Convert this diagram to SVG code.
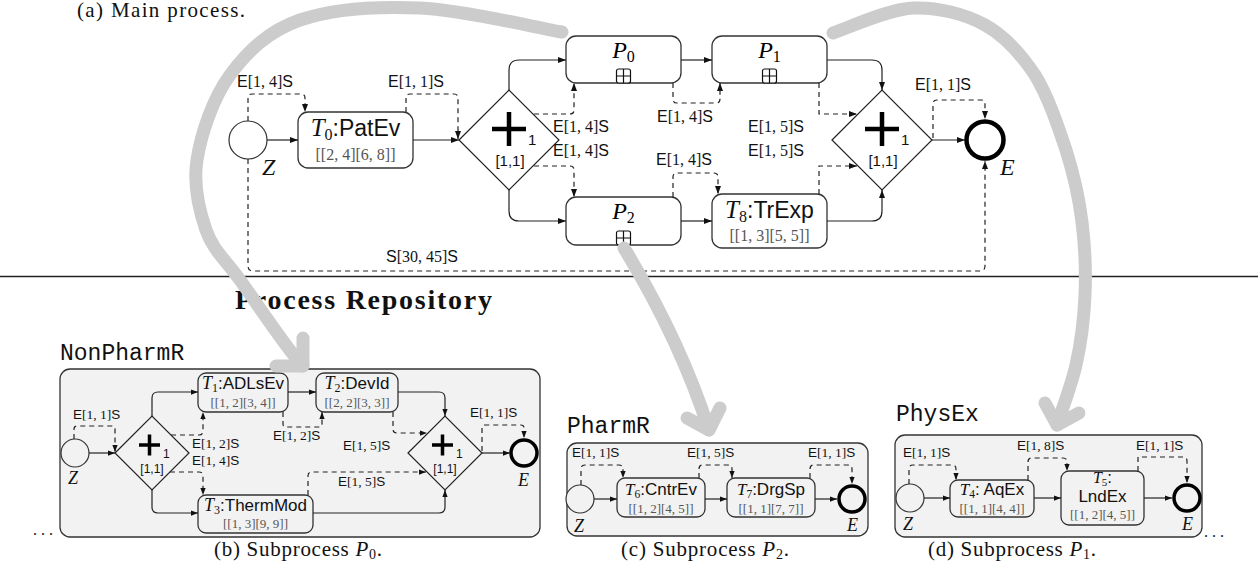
<svg xmlns="http://www.w3.org/2000/svg" width="1258" height="579" viewBox="0 0 1258 579">
<style>
.bx{fill:#fff;stroke:#333;stroke-width:1.3}
.sbx{fill:#f2f2f2;stroke:#333;stroke-width:1.3}
.gw{fill:#fff;stroke:#222;stroke-width:1.2}
.sgw{fill:#f2f2f2;stroke:#222;stroke-width:1.2}
.ev{fill:#fff;stroke:#333;stroke-width:1.2}
.sev{fill:#f2f2f2;stroke:#333;stroke-width:1.2}
.end{fill:#fff;stroke:#000;stroke-width:4.5}
.send{fill:#f2f2f2;stroke:#000;stroke-width:3.5}
.pl{stroke:#000;fill:none}
.sol{fill:none;stroke:#222;stroke-width:1.2}
.dsh{fill:none;stroke:#222;stroke-width:1.2;stroke-dasharray:5 4}
.gr{fill:none;stroke:#cccccc;stroke-width:13;stroke-linecap:round;stroke-linejoin:round}
.lb{font-family:"Liberation Serif",serif;font-size:16px;fill:#111}
.slb{font-family:"Liberation Serif",serif;font-size:13.5px;fill:#111}
.sf{font-family:"Liberation Sans",sans-serif}
.it{font-family:"Liberation Serif",serif;font-style:italic}
.up{font-family:"Liberation Serif",serif}
.tt{font-family:"Liberation Sans",sans-serif;font-size:23px;fill:#111}
.stt{font-family:"Liberation Sans",sans-serif;font-size:17px;fill:#111}
.iv{font-family:"Liberation Serif",serif;font-size:16px;fill:#555}
.siv{font-family:"Liberation Serif",serif;font-size:13px;fill:#555}
.gl{font-family:"Liberation Sans",sans-serif;font-size:15px;fill:#111}
.sgl{font-family:"Liberation Sans",sans-serif;font-size:12px;fill:#111}
.cap{font-family:"Liberation Serif",serif;font-size:21px;fill:#111}
.mono{font-family:"Liberation Mono",monospace;font-size:23px;fill:#111}
.ev-l{font-family:"Liberation Serif",serif;font-style:italic;font-size:24px;fill:#111}
.sev-l{font-family:"Liberation Serif",serif;font-style:italic;font-size:18px;fill:#111}
</style>
<defs>
<marker id="ah" viewBox="0 0 8 6" refX="8" refY="3" markerWidth="8" markerHeight="6" markerUnits="userSpaceOnUse" orient="auto"><path d="M0,0 L8,3 L0,6 z" fill="#111"/></marker>
<marker id="sah" viewBox="0 0 8 6" refX="8" refY="3" markerWidth="7" markerHeight="5.5" markerUnits="userSpaceOnUse" orient="auto"><path d="M0,0 L8,3 L0,6 z" fill="#111"/></marker>
<g id="plusbox"><rect x="0" y="0" width="14" height="14" rx="2" fill="#fff" stroke="#111" stroke-width="1.2"/><path d="M7,0 V14 M0,7 H14" stroke="#111" stroke-width="1.2"/></g>
</defs>

<text class="cap" x="77" y="17" textLength="168">(a) Main process.</text>

<!-- ===== Main process nodes ===== -->
<g id="main-Z">
<circle class="ev" cx="248" cy="140" r="19"/>
<text class="ev-l" x="262" y="175">Z</text>
</g>
<g id="main-T0">
<rect class="bx" x="298" y="112" width="115" height="56" rx="10"/>
<text class="tt" x="355.5" y="136" text-anchor="middle"><tspan class="it" font-size="25">T</tspan><tspan class="up" font-size="16" dy="4">0</tspan><tspan dy="-4">:PatEv</tspan></text>
<text class="iv" x="355.5" y="160" text-anchor="middle">[[2, 4][6, 8]]</text>
</g>
<g id="main-G1">
<polygon class="gw" points="459,140 509,90 559,140 509,190"/>
<path class="pl" stroke-width="4.5" d="M492,129 H526 M509,112 V146"/>
<text class="gl" x="528" y="145">1</text>
<text class="gl" x="510" y="166" text-anchor="middle">[1,1]</text>
</g>
<g id="main-P0">
<rect class="bx" x="566" y="36" width="115" height="47" rx="10"/>
<text class="up" x="623.5" y="58" text-anchor="middle" font-size="24"><tspan class="it">P</tspan><tspan font-size="16" dy="4">0</tspan></text>
<use href="#plusbox" x="616.5" y="69"/>
</g>
<g id="main-P1">
<rect class="bx" x="712" y="36" width="115" height="47" rx="10"/>
<text class="up" x="769.5" y="58" text-anchor="middle" font-size="24"><tspan class="it">P</tspan><tspan font-size="16" dy="4">1</tspan></text>
<use href="#plusbox" x="762.5" y="69"/>
</g>
<g id="main-P2">
<rect class="bx" x="566" y="197" width="115" height="48" rx="10"/>
<text class="up" x="623.5" y="219" text-anchor="middle" font-size="24"><tspan class="it">P</tspan><tspan font-size="16" dy="4">2</tspan></text>
<use href="#plusbox" x="616.5" y="231"/>
</g>
<g id="main-T8">
<rect class="bx" x="712" y="194" width="115" height="54" rx="10"/>
<text class="tt" x="769.5" y="218" text-anchor="middle"><tspan class="it" font-size="25">T</tspan><tspan class="up" font-size="16" dy="4">8</tspan><tspan dy="-4">:TrExp</tspan></text>
<text class="iv" x="769.5" y="241" text-anchor="middle">[[1, 3][5, 5]]</text>
</g>
<g id="main-G2">
<polygon class="gw" points="832,140 882,90 932,140 882,190"/>
<path class="pl" stroke-width="4.5" d="M865,129 H899 M882,112 V146"/>
<text class="gl" x="901" y="145">1</text>
<text class="gl" x="883" y="166" text-anchor="middle">[1,1]</text>
</g>
<g id="main-E">
<circle class="end" cx="985" cy="140" r="18.5"/>
<text class="ev-l" x="1000" y="175">E</text>
</g>

<!-- ===== Main process connectors ===== -->
<g id="main-connectors">
<path class="sol" marker-end="url(#ah)" d="M267,140 H298"/>
<path class="sol" marker-end="url(#ah)" d="M413,140 H459"/>
<path class="sol" marker-end="url(#ah)" d="M509,90 V70 Q509,60 519,60 H566"/>
<path class="sol" marker-end="url(#ah)" d="M509,190 V211 Q509,221 519,221 H566"/>
<path class="sol" marker-end="url(#ah)" d="M681,60 H712"/>
<path class="sol" marker-end="url(#ah)" d="M681,221 H712"/>
<path class="sol" marker-end="url(#ah)" d="M827,60 H872 Q882,60 882,70 V90"/>
<path class="sol" marker-end="url(#ah)" d="M827,221 H872 Q882,221 882,211 V190"/>
<path class="sol" marker-end="url(#ah)" d="M932,140 H965"/>

<path class="dsh" marker-end="url(#ah)" d="M248,121 V98 Q248,94 252,94 H301 Q305,94 305,98 V112"/>
<path class="dsh" marker-end="url(#ah)" d="M406,112 V98 Q406,94 410,94 H454 Q458,94 458,98 V139"/>
<path class="dsh" marker-end="url(#ah)" d="M534,114 H570 Q574,114 574,110 V83"/>
<path class="dsh" marker-end="url(#ah)" d="M534,166 H570 Q574,166 574,170 V197"/>
<path class="dsh" marker-end="url(#ah)" d="M673,83 V99 Q673,103 677,103 H716 Q720,103 720,99 V83"/>
<path class="dsh" marker-end="url(#ah)" d="M673,197 V177 Q673,173 677,173 H714 Q718,173 718,177 V194"/>
<path class="dsh" marker-end="url(#ah)" d="M819,83 V114 H857"/>
<path class="dsh" marker-end="url(#ah)" d="M819,194 V166 H857"/>
<path class="dsh" marker-end="url(#ah)" d="M933,138 V104 Q933,100 937,100 H981 Q985,100 985,104 V119"/>
<path class="dsh" marker-end="url(#ah)" d="M248,159 V266 Q248,271 253,271 H980 Q985,271 985,266 V161"/>

<text class="lb" x="237" y="87"><tspan class="sf">E</tspan>[1, 4]<tspan class="sf">S</tspan></text>
<text class="lb" x="388" y="87"><tspan class="sf">E</tspan>[1, 1]<tspan class="sf">S</tspan></text>
<text class="lb" x="553" y="132"><tspan class="sf">E</tspan>[1, 4]<tspan class="sf">S</tspan></text>
<text class="lb" x="553" y="156"><tspan class="sf">E</tspan>[1, 4]<tspan class="sf">S</tspan></text>
<text class="lb" x="657" y="122"><tspan class="sf">E</tspan>[1, 4]<tspan class="sf">S</tspan></text>
<text class="lb" x="656" y="165"><tspan class="sf">E</tspan>[1, 4]<tspan class="sf">S</tspan></text>
<text class="lb" x="748" y="132"><tspan class="sf">E</tspan>[1, 5]<tspan class="sf">S</tspan></text>
<text class="lb" x="748" y="156"><tspan class="sf">E</tspan>[1, 5]<tspan class="sf">S</tspan></text>
<text class="lb" x="915" y="90"><tspan class="sf">E</tspan>[1, 1]<tspan class="sf">S</tspan></text>
<text class="lb" x="386" y="262"><tspan class="sf">S</tspan>[30, 45]<tspan class="sf">S</tspan></text>
</g>

<line x1="0" y1="276.5" x2="1258" y2="276.5" stroke="#222" stroke-width="1.3"/>
<text class="up" x="235" y="309" font-size="28" font-weight="bold" textLength="257" fill="#111">Process Repository</text>

<!-- ===== Subprocess (b) NonPharmR ===== -->
<g id="sub-b">
<text class="mono" x="60" y="360">NonPharmR</text>
<rect class="sbx" x="60" y="369" width="480" height="168" rx="10"/>
<text class="up" x="33" y="535" font-size="16" fill="#111">. . .</text>
<text class="cap" x="298" y="556" text-anchor="middle" textLength="168">(b) Subprocess <tspan class="it">P</tspan><tspan font-size="14" dy="3">0</tspan><tspan dy="-3">.</tspan></text>
</g>
<g id="b-Z">
<circle class="sev" cx="75" cy="453" r="14"/>
<text class="sev-l" x="68" y="484">Z</text>
</g>
<g id="b-G1">
<polygon class="sgw" points="115,453 152,416 189,453 152,490"/>
<path class="pl" stroke-width="3.5" d="M139,445 H160 M149.5,434.5 V455.5"/>
<text class="sgl" x="163" y="458">1</text>
<text class="sgl" x="152" y="473" text-anchor="middle">[1,1]</text>
</g>
<g id="b-T1">
<rect class="sbx" x="198" y="373" width="90" height="39" rx="8"/>
<text class="stt" x="243" y="389" text-anchor="middle"><tspan class="it" font-size="18">T</tspan><tspan class="up" font-size="12" dy="3">1</tspan><tspan dy="-3">:ADLsEv</tspan></text>
<text class="siv" x="243" y="407" text-anchor="middle">[[1, 2][3, 4]]</text>
</g>
<g id="b-T2">
<rect class="sbx" x="316" y="373" width="82" height="39" rx="8"/>
<text class="stt" x="357" y="389" text-anchor="middle"><tspan class="it" font-size="18">T</tspan><tspan class="up" font-size="12" dy="3">2</tspan><tspan dy="-3">:DevId</tspan></text>
<text class="siv" x="357" y="407" text-anchor="middle">[[2, 2][3, 3]]</text>
</g>
<g id="b-T3">
<rect class="sbx" x="198" y="495" width="115" height="38" rx="8"/>
<text class="stt" x="255.5" y="511" text-anchor="middle"><tspan class="it" font-size="18">T</tspan><tspan class="up" font-size="12" dy="3">3</tspan><tspan dy="-3">:ThermMod</tspan></text>
<text class="siv" x="255.5" y="528" text-anchor="middle">[[1, 3][9, 9]]</text>
</g>
<g id="b-G2">
<polygon class="sgw" points="408,453 445,416 482,453 445,490"/>
<path class="pl" stroke-width="3.5" d="M432,445 H453 M442.5,434.5 V455.5"/>
<text class="sgl" x="456" y="458">1</text>
<text class="sgl" x="445" y="473" text-anchor="middle">[1,1]</text>
</g>
<g id="b-E">
<circle class="send" cx="524" cy="453" r="13"/>
<text class="sev-l" x="518" y="486">E</text>
</g>
<g id="b-connectors">
<path class="sol" marker-end="url(#sah)" d="M89,453 H115"/>
<path class="sol" marker-end="url(#sah)" d="M152,416 V398 Q152,392 158,392 H198"/>
<path class="sol" marker-end="url(#sah)" d="M152,490 V507 Q152,513 158,513 H198"/>
<path class="sol" marker-end="url(#sah)" d="M288,392 H316"/>
<path class="sol" marker-end="url(#sah)" d="M398,392 H439 Q445,392 445,398 V416"/>
<path class="sol" marker-end="url(#sah)" d="M313,513 H439 Q445,513 445,507 V490"/>
<path class="sol" marker-end="url(#sah)" d="M482,453 H510"/>
<path class="dsh" marker-end="url(#sah)" d="M74,439 V429 Q74,426 77,426 H112 Q115,426 115,429 V452"/>
<path class="dsh" marker-end="url(#sah)" d="M171,435 H199 Q203,435 203,431 V412"/>
<path class="dsh" marker-end="url(#sah)" d="M170,472 H199 Q203,472 203,476 V495"/>
<path class="dsh" marker-end="url(#sah)" d="M283,412 V424 Q283,427 286,427 H319 Q322,427 322,424 V412"/>
<path class="dsh" marker-end="url(#sah)" d="M393,412 V429 Q393,433 397,433 H427"/>
<path class="dsh" marker-end="url(#sah)" d="M308,495 V476 Q308,472 312,472 H426"/>
<path class="dsh" marker-end="url(#sah)" d="M482,451 V428 Q482,425 485,425 H521 Q524,425 524,428 V438"/>
<text class="slb" x="73" y="419"><tspan class="sf">E</tspan>[1, 1]<tspan class="sf">S</tspan></text>
<text class="slb" x="192" y="448"><tspan class="sf">E</tspan>[1, 2]<tspan class="sf">S</tspan></text>
<text class="slb" x="192" y="465"><tspan class="sf">E</tspan>[1, 4]<tspan class="sf">S</tspan></text>
<text class="slb" x="273" y="440"><tspan class="sf">E</tspan>[1, 2]<tspan class="sf">S</tspan></text>
<text class="slb" x="343" y="450"><tspan class="sf">E</tspan>[1, 5]<tspan class="sf">S</tspan></text>
<text class="slb" x="338" y="486"><tspan class="sf">E</tspan>[1, 5]<tspan class="sf">S</tspan></text>
<text class="slb" x="470" y="417"><tspan class="sf">E</tspan>[1, 1]<tspan class="sf">S</tspan></text>
</g>

<!-- ===== Subprocess (c) PharmR ===== -->
<g id="sub-c">
<text class="mono" x="567" y="433">PharmR</text>
<rect class="sbx" x="567" y="443" width="301" height="93" rx="10"/>
<text class="cap" x="705" y="556" text-anchor="middle" textLength="168">(c) Subprocess <tspan class="it">P</tspan><tspan font-size="14" dy="3">2</tspan><tspan dy="-3">.</tspan></text>
</g>
<g id="c-Z">
<circle class="sev" cx="580" cy="499" r="14"/>
<text class="sev-l" x="574" y="532">Z</text>
</g>
<g id="c-T6">
<rect class="sbx" x="617" y="478" width="88" height="39" rx="8"/>
<text class="stt" x="661" y="495" text-anchor="middle" font-size="16"><tspan class="it" font-size="17">T</tspan><tspan class="up" font-size="11.5" dy="3">6</tspan><tspan dy="-3">:CntrEv</tspan></text>
<text class="siv" x="661" y="513" text-anchor="middle">[[1, 2][4, 5]]</text>
</g>
<g id="c-T7">
<rect class="sbx" x="727" y="478" width="88" height="39" rx="8"/>
<text class="stt" x="771" y="495" text-anchor="middle" font-size="16"><tspan class="it" font-size="17">T</tspan><tspan class="up" font-size="11.5" dy="3">7</tspan><tspan dy="-3">:DrgSp</tspan></text>
<text class="siv" x="771" y="513" text-anchor="middle">[[1, 1][7, 7]]</text>
</g>
<g id="c-E">
<circle class="send" cx="852" cy="499" r="13"/>
<text class="sev-l" x="847" y="531">E</text>
</g>
<g id="c-connectors">
<path class="sol" marker-end="url(#sah)" d="M594,499 H617"/>
<path class="sol" marker-end="url(#sah)" d="M705,499 H727"/>
<path class="sol" marker-end="url(#sah)" d="M815,499 H837"/>
<path class="dsh" marker-end="url(#sah)" d="M581,485 V469 Q581,465 585,465 H619 Q623,465 623,469 V478"/>
<path class="dsh" marker-end="url(#sah)" d="M699,478 V469 Q699,465 703,465 H728 Q732,465 732,469 V478"/>
<path class="dsh" marker-end="url(#sah)" d="M810,478 V469 Q810,465 814,465 H848 Q852,465 852,469 V484"/>
<text class="slb" x="572" y="457"><tspan class="sf">E</tspan>[1, 1]<tspan class="sf">S</tspan></text>
<text class="slb" x="687" y="457"><tspan class="sf">E</tspan>[1, 5]<tspan class="sf">S</tspan></text>
<text class="slb" x="808" y="457"><tspan class="sf">E</tspan>[1, 1]<tspan class="sf">S</tspan></text>
</g>

<!-- ===== Subprocess (d) PhysEx ===== -->
<g id="sub-d">
<text class="mono" x="896" y="421">PhysEx</text>
<rect class="sbx" x="895" y="435" width="307" height="102" rx="10"/>
<text class="up" x="1204" y="537" font-size="16" fill="#111">. . .</text>
<text class="cap" x="1012" y="556" text-anchor="middle" textLength="168">(d) Subprocess <tspan class="it">P</tspan><tspan font-size="14" dy="3">1</tspan><tspan dy="-3">.</tspan></text>
</g>
<g id="d-Z">
<circle class="sev" cx="910" cy="498" r="14"/>
<text class="sev-l" x="903" y="530">Z</text>
</g>
<g id="d-T4">
<rect class="sbx" x="950" y="480" width="84" height="37" rx="8"/>
<text class="stt" x="992" y="495" text-anchor="middle" font-size="16"><tspan class="it" font-size="17">T</tspan><tspan class="up" font-size="11.5" dy="3">4</tspan><tspan dy="-3">: AqEx</tspan></text>
<text class="siv" x="992" y="513" text-anchor="middle">[[1, 1][4, 4]]</text>
</g>
<g id="d-T5">
<rect class="sbx" x="1061" y="471" width="83" height="54" rx="8"/>
<text class="stt" x="1102.5" y="483" text-anchor="middle" font-size="15"><tspan class="it" font-size="16">T</tspan><tspan class="up" font-size="11" dy="3">5</tspan><tspan dy="-3">:</tspan></text>
<text class="stt" x="1102.5" y="502" text-anchor="middle">LndEx</text>
<text class="siv" x="1102.5" y="519" text-anchor="middle">[[1, 2][4, 5]]</text>
</g>
<g id="d-E">
<circle class="send" cx="1187" cy="498" r="13"/>
<text class="sev-l" x="1182" y="530">E</text>
</g>
<g id="d-connectors">
<path class="sol" marker-end="url(#sah)" d="M924,498 H950"/>
<path class="sol" marker-end="url(#sah)" d="M1034,498 H1061"/>
<path class="sol" marker-end="url(#sah)" d="M1144,498 H1172"/>
<path class="dsh" marker-end="url(#sah)" d="M909,484 V469 Q909,465 913,465 H952 Q956,465 956,469 V480"/>
<path class="dsh" marker-end="url(#sah)" d="M1028,480 V462 Q1028,458 1032,458 H1063 Q1067,458 1067,462 V471"/>
<path class="dsh" marker-end="url(#sah)" d="M1138,471 V457 H1183 Q1187,457 1187,461 V483"/>
<text class="slb" x="903" y="457"><tspan class="sf">E</tspan>[1, 1]<tspan class="sf">S</tspan></text>
<text class="slb" x="1017" y="450"><tspan class="sf">E</tspan>[1, 8]<tspan class="sf">S</tspan></text>
<text class="slb" x="1136" y="450"><tspan class="sf">E</tspan>[1, 1]<tspan class="sf">S</tspan></text>
</g>

<!-- ===== Gray reference arrows ===== -->
<g id="ref-arrows">
<path class="gr" d="M562,32 C538,28 464,10 420,8 C376,6 332,9 300,20 C268,31 247,52 230,75 C213,98 201,134 197,160 C193,186 199,210 206,230 C213,250 224,258 240,280 C256,302 288,351 303,366"/>
<path class="gr" d="M303,338 L303,366 L276,366"/>
<path class="gr" d="M624,248 Q680,340 709,430"/>
<path class="gr" d="M687,418 L709,430 L720,408"/>
<path class="gr" d="M833,33 C846,29 888,9 913,8 C938,7 965,14 985,25 C1005,36 1021,54 1035,75 C1048,96 1058,126 1066,150 C1074,175 1079,198 1082,222 C1085,246 1086,271 1085,295 C1084,319 1081,343 1076,365 C1071,387 1060,415 1057,425"/>
<path class="gr" d="M1045,403 L1057,425 L1079,413"/>
</g>
</svg>
